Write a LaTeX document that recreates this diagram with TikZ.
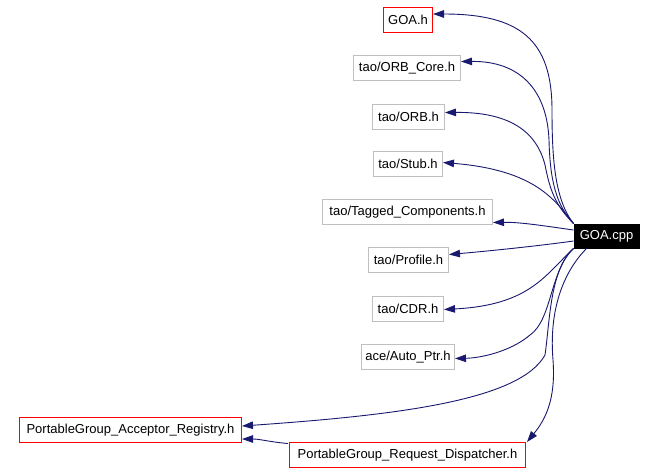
\documentclass[tikz,border=0pt]{standalone}
\usepackage{fontspec}
\setmainfont{Liberation Sans}
\usetikzlibrary{arrows.meta}
\definecolor{edgeblue}{RGB}{25,25,112}
\definecolor{boxgrey}{RGB}{191,191,191}
\definecolor{boxred}{RGB}{255,0,0}
\begin{document}
\begin{tikzpicture}[x=1pt,y=-1pt,
  filebox/.style={draw=boxgrey,line width=1pt,inner sep=0pt,minimum height=25pt,font=\fontsize{13}{15}\selectfont},
  redbox/.style={filebox,draw=boxred},
  mainbox/.style={filebox,fill=black,draw=black,text=white},
  dep/.style={draw=edgeblue,line width=0.9pt,-{Triangle[length=11pt,width=7.5pt]}}]
\useasboundingbox (0,0) rectangle (656,472);
\fill[white] (0,0) rectangle (656,472);
\node[redbox,minimum width=49pt] (goah) at (408,20) {GOA.h};
\node[filebox,minimum width=107pt] (core) at (407,68) {tao/ORB\_Core.h};
\node[filebox,minimum width=72pt] (orb) at (408.5,116.5) {tao/ORB.h};
\node[filebox,minimum width=69pt] (stub) at (408,164) {tao/Stub.h};
\node[filebox,minimum width=170pt] (tagged) at (407.5,212) {tao/Tagged\_Components.h};
\node[filebox,minimum width=80pt] (profile) at (408.5,260) {tao/Profile.h};
\node[filebox,minimum width=71pt] (cdr) at (408,308.5) {tao/CDR.h};
\node[filebox,minimum width=93pt] (auto) at (408,357) {ace/Auto\_Ptr.h};
\node[mainbox,minimum width=65pt,minimum height=24pt] (goacpp) at (606.5,236) {GOA.cpp};
\node[redbox,minimum width=222pt] (acc) at (130.5,430) {PortableGroup\_Acceptor\_Registry.h};
\node[redbox,minimum width=236pt] (disp) at (407.5,455) {PortableGroup\_Request\_Dispatcher.h};

\draw[dep] (goacpp.north west) .. controls (555,200) and (552,160) .. (552,110)
  .. controls (552,40) and (520,14) .. ([yshift=6pt]goah.east);
\draw[dep] (goacpp.north west) .. controls (556,205) and (550,180) .. (549,140)
  .. controls (547,90) and (520,61) .. ([yshift=6.5pt]core.east);
\draw[dep] (goacpp.north west) .. controls (555,205) and (550,190) .. (545,165)
  .. controls (535,125) and (500,112) .. ([yshift=4pt]orb.east);
\draw[dep] (goacpp.north west) .. controls (555,200) and (535,170) .. ([yshift=1.5pt]stub.east);
\draw[dep] ([yshift=6pt]goacpp.west) .. controls (545,226) and (520,222) .. ([yshift=-10.5pt]tagged.east);
\draw[dep] ([yshift=-5pt]goacpp.west) .. controls (545,245) and (500,250) .. ([yshift=5.5pt]profile.east);
\draw[dep] (goacpp.south west) .. controls (545,275) and (530,305) .. ([yshift=-1pt]cdr.east);
\draw[dep] (goacpp.south west) .. controls (550,270) and (552,320) .. (530,335)
  .. controls (510,352) and (480,358) .. ([yshift=-1.5pt]auto.east);
\draw[dep] (goacpp.south west) .. controls (550,270) and (550,320) .. (545,355)
  .. controls (520,400) and (400,415) .. ([yshift=4pt]acc.east);
\draw[dep] ([xshift=13pt]goacpp.south west) .. controls (570,265) and (548,300) .. (553,360)
  .. controls (556,400) and (545,420) .. ([xshift=1pt]disp.north east);
\draw[dep] ([yshift=11.5pt,xshift=-1pt]disp.west) .. controls (270,442) and (260,439) .. ([yshift=-9pt]acc.east);
\end{tikzpicture}
\end{document}
